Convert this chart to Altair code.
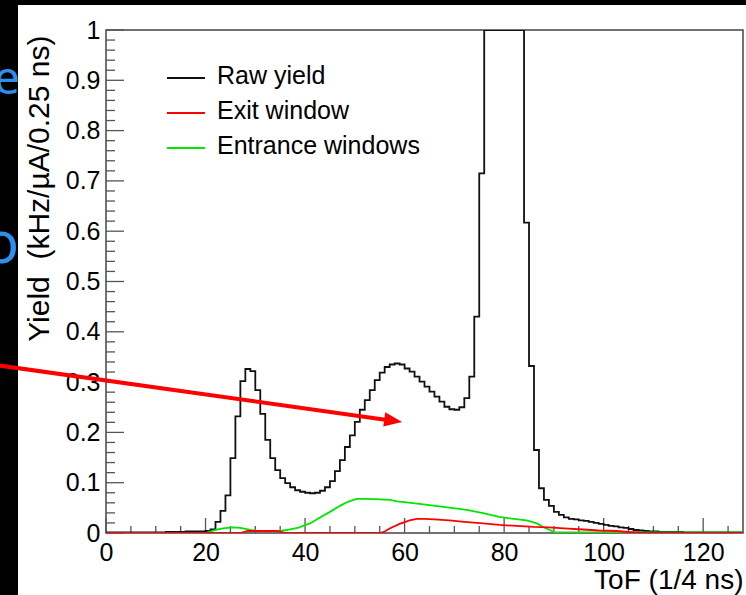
import altair as alt
import pandas as pd

# ---------------- data ----------------
# Raw yield: histogram, 128 bins of width 1 (low edges 0..127)
tof_bin_low = list(range(0, 128))
raw_yield = [
    0.001, 0.001, 0.001, 0.001, 0.001, 0.001, 0.001, 0.001, 0.001, 0.001,   # 0-9
    0.001, 0.001, 0.002, 0.002, 0.002, 0.002, 0.003, 0.003, 0.003, 0.003,   # 10-19
    0.004, 0.007, 0.022, 0.044, 0.075, 0.149, 0.232, 0.302, 0.326, 0.322,   # 20-29
    0.284, 0.237, 0.185, 0.149, 0.125, 0.109, 0.099, 0.091, 0.085, 0.082,   # 30-39
    0.080, 0.079, 0.080, 0.084, 0.091, 0.103, 0.123, 0.145, 0.171, 0.194,   # 40-49
    0.221, 0.245, 0.264, 0.284, 0.304, 0.319, 0.330, 0.335, 0.337, 0.335,   # 50-59
    0.327, 0.321, 0.311, 0.301, 0.291, 0.281, 0.271, 0.261, 0.251, 0.246,   # 60-69
    0.245, 0.250, 0.268, 0.311, 0.430, 0.715, 1.000, 1.000, 1.000, 1.000,   # 70-79
    1.000, 1.000, 1.000, 1.000, 0.617, 0.332, 0.165, 0.089, 0.066, 0.054,   # 80-89
    0.042, 0.036, 0.031, 0.028, 0.027, 0.025, 0.024, 0.022, 0.020, 0.018,   # 90-99
    0.016, 0.014, 0.013, 0.011, 0.010, 0.008, 0.006, 0.005, 0.004, 0.003,   # 100-109
    0.003, 0.002, 0.002, 0.002, 0.002, 0.002, 0.001, 0.001, 0.001, 0.001,   # 110-119
    0.001, 0.001, 0.001, 0.001, 0.001, 0.001, 0.001, 0.001,                 # 120-127
]

# Exit window (red)
exit_tof = [0, 27, 28.5, 34.5, 36, 55, 56, 57, 59, 61, 62.5, 64, 66, 69, 72,
            75.8, 79, 82.5, 86, 89, 92, 95.9, 99, 102.6, 105, 107, 108, 128]
exit_yield = [0, 0, 0.004, 0.004, 0, 0, 0.003, 0.009, 0.018, 0.025, 0.028, 0.028,
              0.027, 0.025, 0.022, 0.019, 0.016, 0.014, 0.012, 0.011, 0.009,
              0.007, 0.005, 0.004, 0.002, 0.001, 0, 0]

# Entrance windows (green)
ent_tof = [0, 20, 21, 22, 23.5, 25.5, 27, 29, 30.5, 35, 37, 38.5, 39.6, 41, 43,
           45, 47, 48.6, 50.4, 52.4, 55, 57, 58.5, 60.4, 63.8, 67, 71, 72.5, 76,
           79, 82, 84.5, 86.6, 87.8, 89.2, 90.2, 128]
ent_yield = [0, 0, 0.003, 0.006, 0.009, 0.011, 0.010, 0.006, 0.004, 0.004, 0.007,
             0.010, 0.014, 0.019, 0.031, 0.042, 0.054, 0.062, 0.068, 0.068, 0.067,
             0.066, 0.063, 0.061, 0.057, 0.053, 0.048, 0.046, 0.039, 0.032, 0.028,
             0.025, 0.019, 0.012, 0.006, 0.001, 0.001]

series_names = ["Raw yield", "Exit window", "Entrance windows"]
series_colors = ["#111111", "#ff0000", "#00e600"]

# axis tick values
x_major = [0, 20, 40, 60, 80, 100, 120]
x_minor = [5 * i for i in range(1, 26) if i % 4 != 0]
y_major = [0, 0.1, 0.2, 0.3, 0.4, 0.5, 0.6, 0.7, 0.8, 0.9, 1.0]
y_minor = [round(0.02 * i, 2) for i in range(1, 50) if i % 5 != 0]

# annotation arrow (data coordinates)
arrow_tof = [-21.5, 57.9]
arrow_yield = [0.333, 0.2227]
arrow_tip_tof = [59.5]
arrow_tip_yield = [0.2207]

# ---------------- chart ----------------
W, H = 637, 503
FONT = "Liberation Sans"
xscale = alt.Scale(domain=[0, 128], nice=False, zero=False)
yscale = alt.Scale(domain=[0, 1], nice=False, zero=False)

x_axis = alt.Axis(
    values=x_major, format="d", ticks=False, tickSize=0, domain=False, grid=False,
    labelFont=FONT, labelFontSize=25, labelColor="black", labelPadding=27,
    labelBaseline="alphabetic", labelFlush=False,
    title="ToF (1/4 ns)", titleFont=FONT, titleFontSize=28, titleFontWeight="normal",
    titleColor="black", titleAlign="right", titleBaseline="alphabetic",
    titleX=W, titleY=55)
y_axis = alt.Axis(
    values=y_major, format="~g", ticks=False, tickSize=0, domain=False, grid=False,
    labelFont=FONT, labelFontSize=25, labelColor="black", labelPadding=6,
    labelFlush=False,
    title="Yield\u00a0 (kHz/µA/0.25 ns)", titleFont=FONT, titleFontSize=30,
    titleFontWeight="normal", titleColor="black", titleAngle=270,
    titleAlign="right", titleBaseline="alphabetic", titleX=-58, titleY=5)


def X(field):
    return alt.X(field, scale=xscale, axis=x_axis)


def Y(field):
    return alt.Y(field, scale=yscale, axis=y_axis)


one = pd.DataFrame({"a": [0]})

# black slide background strips (left and top)
left_strip = alt.Chart(one).mark_rect(color="black").encode(
    x=alt.value(-106), x2=alt.value(-88), y=alt.value(-30), y2=alt.value(H + 62))
top_strip = alt.Chart(one).mark_rect(color="black").encode(
    x=alt.value(-106), x2=alt.value(W + 3), y=alt.value(-30), y2=alt.value(-25))

# partial blue glyphs of the underlying slide
glyph_e = alt.Chart(pd.DataFrame({"t": ["e"]})).mark_text(
    font="Noto Sans", fontSize=46, color="#2e8ef0", align="right", baseline="alphabetic"
).encode(text="t:N", x=alt.value(-86), y=alt.value(64))
glyph_o = alt.Chart(pd.DataFrame({"t": ["o"]})).mark_text(
    font="Noto Sans", fontSize=58, color="#2e8ef0", align="right", baseline="alphabetic"
).encode(text="t:N", x=alt.value(-87), y=alt.value(233))


# inward ticks
def yticks(vals, length):
    return alt.Chart(pd.DataFrame({"yield": vals})).mark_rule(color="#555", strokeWidth=1.3).encode(
        y=Y("yield:Q"), x=alt.value(0), x2=alt.value(length))


def xticks(vals, length):
    return alt.Chart(pd.DataFrame({"tof": vals})).mark_rule(color="#555", strokeWidth=1.3).encode(
        x=X("tof:Q"), y=alt.value(H), y2=alt.value(H - length))


raw_df = pd.DataFrame({"tof": tof_bin_low + [128], "yield": raw_yield + [raw_yield[-1]]})
raw = alt.Chart(raw_df).mark_line(
    interpolate="step-after", color=series_colors[0], strokeWidth=1.8, clip=True
).encode(x=X("tof:Q"), y=Y("yield:Q"))

ent = alt.Chart(pd.DataFrame({"tof": ent_tof, "yield": ent_yield})).mark_line(
    color=series_colors[2], strokeWidth=1.8, clip=True
).encode(x=X("tof:Q"), y=Y("yield:Q"))

ext = alt.Chart(pd.DataFrame({"tof": exit_tof, "yield": exit_yield})).mark_line(
    color=series_colors[1], strokeWidth=1.8, clip=True
).encode(x=X("tof:Q"), y=Y("yield:Q"))

# legend (drawn like ROOT's TLegend)
legend_layers = []
for i, (name, col) in enumerate(zip(series_names, series_colors)):
    legend_layers.append(alt.Chart(one).mark_rule(color=col, strokeWidth=2).encode(
        x=alt.value(61), x2=alt.value(99), y=alt.value(48 + 35 * i)))
    legend_layers.append(alt.Chart(pd.DataFrame({"t": [name]})).mark_text(
        font=FONT, fontSize=25, color="black", align="left", baseline="middle"
    ).encode(text="t:N", x=alt.value(111), y=alt.value(46 + 35 * i)))

arrow_line = alt.Chart(pd.DataFrame({"tof": arrow_tof, "yield": arrow_yield})).mark_line(
    color="#ff0000", strokeWidth=4, clip=False
).encode(x=X("tof:Q"), y=Y("yield:Q"))

arrow_head = alt.Chart(pd.DataFrame({"tof": arrow_tip_tof, "yield": arrow_tip_yield})).mark_point(
    shape="M0,0L-2,-0.8L-2,0.8Z", filled=True, color="#ff0000", opacity=1,
    size=324, angle=8, strokeWidth=0
).encode(x=X("tof:Q"), y=Y("yield:Q"))

chart = alt.layer(
    left_strip, top_strip, glyph_e, glyph_o,
    yticks(y_major, 18), yticks(y_minor, 9), xticks(x_major, 15), xticks(x_minor, 7),
    raw, ent, ext, *legend_layers, arrow_line, arrow_head
).properties(
    width=W, height=H,
    padding={"left": 106, "top": 30, "right": 3, "bottom": 62},
    autosize=alt.AutoSizeParams(type="none"),
).configure(
    background="white", font=FONT
).configure_view(
    stroke="#444", strokeWidth=1.5
)

chart.save("out.html", embed_options={"renderer": "svg", "actions": False})
